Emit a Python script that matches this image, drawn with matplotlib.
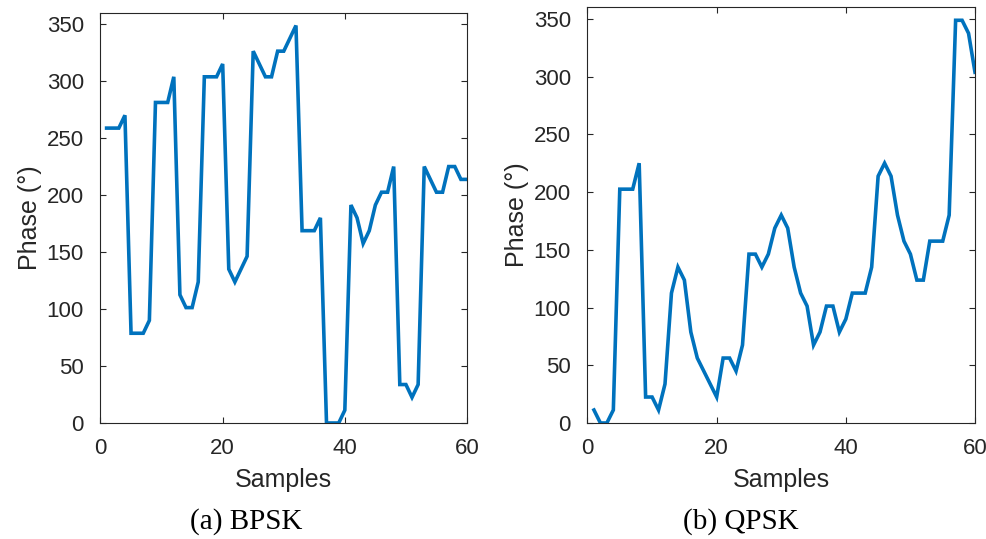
import numpy as np
import matplotlib
matplotlib.use("Agg")
from matplotlib import pyplot as plt

# Phase per sample (degrees)
samples = np.arange(1, 61)

bpsk_phase = [
    258.75, 258.75, 258.75, 270.0, 78.75, 78.75, 78.75, 90.0, 281.25, 281.25,
    281.25, 303.75, 112.5, 101.25, 101.25, 123.75, 303.75, 303.75, 303.75, 315.0,
    135.0, 123.75, 135.0, 146.25, 326.25, 315.0, 303.75, 303.75, 326.25, 326.25,
    337.5, 348.75, 168.75, 168.75, 168.75, 180.0, 0.0, 0.0, 0.0, 11.25,
    191.25, 180.0, 157.5, 168.75, 191.25, 202.5, 202.5, 225.0, 33.75, 33.75,
    22.5, 33.75, 225.0, 213.75, 202.5, 202.5, 225.0, 225.0, 213.75, 213.75,
]

qpsk_phase = [
    11.25, 0.0, 0.0, 11.25, 202.5, 202.5, 202.5, 225.0, 22.5, 22.5,
    11.25, 33.75, 112.5, 135.0, 123.75, 78.75, 56.25, 45.0, 33.75, 22.5,
    56.25, 56.25, 45.0, 67.5, 146.25, 146.25, 135.0, 146.25, 168.75, 180.0,
    168.75, 135.0, 112.5, 101.25, 67.5, 78.75, 101.25, 101.25, 78.75, 90.0,
    112.5, 112.5, 112.5, 135.0, 213.75, 225.0, 213.75, 180.0, 157.5, 146.25,
    123.75, 123.75, 157.5, 157.5, 157.5, 180.0, 348.75, 348.75, 337.5, 303.75,
]

captions = ["(a) BPSK", "(b) QPSK"]

line_color = "#0072BD"
axis_color = "#262626"

plt.rcParams["font.family"] = ["Liberation Sans", "DejaVu Sans"]

fig = plt.figure(figsize=(9.87, 5.39), dpi=100)
W, H = 987, 539

# axes boxes in pixels: left, right, top, bottom
boxes = [(100.5, 467, 12.7, 423), (587.5, 975, 7.3, 423)]
caption_x = [246, 741]

for (x0, x1, y0, y1), data, cap, cx in zip(boxes, [bpsk_phase, qpsk_phase], captions, caption_x):
    ax = fig.add_axes([x0 / W, 1 - y1 / H, (x1 - x0) / W, (y1 - y0) / H])
    ax.plot(samples, data, color=line_color, lw=2.6, solid_joinstyle="miter")

    ax.set_xlim(0, 60)
    ax.set_ylim(0, 360)
    ax.set_xticks([0, 20, 40, 60])
    ax.set_yticks(np.arange(0, 351, 50))

    for s in ax.spines.values():
        s.set_color(axis_color)
        s.set_linewidth(0.8)
    ax.tick_params(direction="in", length=4, width=0.8, color=axis_color,
                   labelcolor=axis_color, labelsize=16, top=True, right=True)
    ax.tick_params(axis="x", pad=11)
    ax.tick_params(axis="y", pad=12)

    ax.set_xlabel("Samples", fontsize=18, color=axis_color, labelpad=6)
    ax.set_ylabel("Phase (°)", fontsize=18, color=axis_color, labelpad=3)

    fig.text(cx / W, 1 - 522 / H, cap, fontsize=21, family="Liberation Serif",
             ha="center", va="center", color="black")

plt.savefig("out.png", dpi=100)
